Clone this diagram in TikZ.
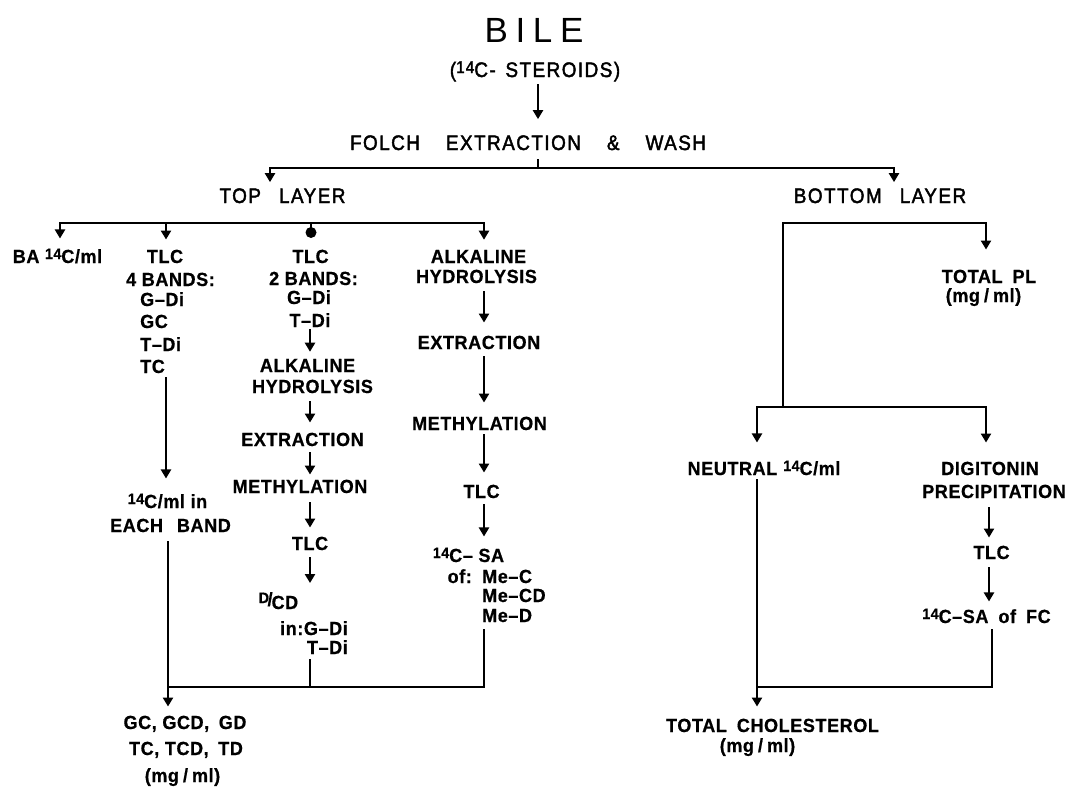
\documentclass[tikz,border=0pt]{standalone}
\usepackage{fontspec}
\setmainfont{Liberation Sans}[LetterSpace=3,FakeStretch=0.95,BoldFeatures={FakeBold=0.6}]
\newfontfamily\bilefont{Liberation Sans}[LetterSpace=22]
\newfontfamily\topfont{Liberation Sans}[LetterSpace=7,FakeStretch=0.9,FakeBold=2]
\usetikzlibrary{arrows.meta}
\newcommand\fourt{\raisebox{4pt}{\fontsize{15}{15}\selectfont 14}}
\newcommand\fourth{\raisebox{4pt}{\fontsize{17}{17}\selectfont 14}}
\begin{document}
\begin{tikzpicture}[x=1pt,y=-1pt,
  t/.style={inner sep=0pt, anchor=base, font={\fontsize{19}{21}\selectfont\bfseries}},
  tl/.style={t, anchor=base west},
  tr/.style={t, anchor=base east},
  hd/.style={inner sep=0pt, anchor=base, font={\fontsize{21}{24}\selectfont\topfont}},
  ln/.style={line width=2.5pt, line cap=rect},
  arr/.style={ln, -{Triangle[length=9pt,width=10pt]}},
]
\useasboundingbox (0,0) rectangle (1068,787);

% ---------- top ----------
\node[hd, font={\fontsize{35}{40}\selectfont\bilefont}] (bile) at (534,42) {BILE};
\node[hd] (ster) at (535,77) {(\fourth C- \hspace{3pt}STEROIDS)};
\node[hd] (folch) at (528,150) {FOLCH\hspace{26pt}EXTRACTION\hspace{26pt}\&\hspace{26pt}WASH};
\node[hd] (toplayer) at (282.5,203) {TOP\hspace{18pt}LAYER};
\node[hd] (botlayer) at (880,203) {BOTTOM\hspace{18pt}LAYER};

\coordinate (X0) at (538,0);
\coordinate (fj) at (538,168);
\coordinate (fl) at (270,168);
\coordinate (fr) at (894,168);
\draw[arr, shorten <=4pt, shorten >=16pt] (ster.south -| X0) -- (folch.north -| X0);
\draw[ln, shorten <=10pt] (folch.south -| fj) -- (fj);
\draw[arr, shorten >=6pt] (fj) -| (toplayer.north -| fl);
\draw[arr, shorten >=6pt] (fj) -| (botlayer.north -| fr);

% ---------- columns under TOP LAYER ----------
\node[t] (ba) at (57.5,263) {BA \fourt C/ml};

\node[t] (c2tlc) at (165,263) {TLC};
\node[t] (c2bands) at (170.5,286) {4 BANDS:};
\node[tl] (c2g) at (140,306) {G–Di};
\node[tl] (c2gc) at (140,328) {GC};
\node[tl] (c2t) at (140,351) {T–Di};
\node[tl] (c2tc) at (140,373) {TC};
\node[t] (c2e1) at (167.5,508) {\fourt C/ml in};
\node[t] (c2e2) at (170.5,532) {EACH\hspace{14pt}BAND};
\node[t] (gc) at (185,729) {GC, GCD,\hspace{4pt} GD};
\node[t] (tc) at (186,755) {TC, TCD,\hspace{4pt} TD};
\node[t] (mg1) at (182.5,782) {(mg\hspace{4pt}/\hspace{4pt}ml)};

\node[t] (c3tlc) at (310.5,263) {TLC};
\node[t] (c3bands) at (313.5,285) {2 BANDS:};
\node[t] (c3g) at (309,304) {G–Di};
\node[t] (c3t) at (310,327) {T–Di};
\node[t] (c3alk) at (307.5,372) {ALKALINE};
\node[t] (c3hyd) at (312.5,393) {HYDROLYSIS};
\node[t] (c3ext) at (302.5,446) {EXTRACTION};
\node[t] (c3met) at (300,493) {METHYLATION};
\node[t] (c3tlc2) at (310,550) {TLC};
\node[t] (c3dcd) at (278.5,606) {\raisebox{3pt}{\fontsize{15}{15}\selectfont D}\kern-1.5pt/\kern-1pt\raisebox{-3pt}{CD}};
\node[tr] (c3in) at (348,635) {in:G–Di};
\node[tr] (c3t2) at (348,654) {T–Di};

\node[t] (c4alk) at (478.5,263) {ALKALINE};
\node[t] (c4hyd) at (476.5,283) {HYDROLYSIS};
\node[t] (c4ext) at (479,349) {EXTRACTION};
\node[t] (c4met) at (479.5,430) {METHYLATION};
\node[t] (c4tlc) at (481.5,498) {TLC};
\node[t] (c4sa) at (468.5,562) {\fourt C– SA};
\node[tr] (c4of) at (472,583) {of:};
\node[tl] (c4c) at (482,583) {Me–C};
\node[tl] (c4cd) at (482,602) {Me–CD};
\node[tl] (c4d) at (482,622) {Me–D};

% top-layer bus
\coordinate (tb1) at (60,223);
\coordinate (tb2) at (166,223);
\coordinate (tb3) at (311,223);
\coordinate (tb4) at (484,223);
\draw[ln] (tb1) -- (tb4);
\draw[arr, shorten >=10pt] (tb1) -- (ba.north -| tb1);
\draw[arr, shorten >=10pt] (tb2) -- (c2tlc.north -| tb2);
\node[circle, fill, inner sep=0pt, minimum size=11pt] (dot) at (311,232.5) {};
\draw[ln] (tb3) -- (dot.north);
\draw[arr, shorten >=10pt] (tb4) -- (c4alk.north -| tb4);

% column 2
\coordinate (X2) at (166,0);
\coordinate (X2b) at (168,0);
\draw[arr, shorten <=5pt, shorten >=15pt] (c2tc.south -| X2) -- (c2e1.north -| X2);
\draw[arr, shorten <=10pt, shorten >=9pt] (c2e2.south -| X2b) -- (gc.north -| X2b);

% column 3
\coordinate (X3) at (310,0);
\draw[arr, shorten <=3pt, shorten >=7pt] (c3t.south -| X3) -- (c3alk.north -| X3);
\draw[arr, shorten <=9pt, shorten >=10pt] (c3hyd.south -| X3) -- (c3ext.north -| X3);
\draw[arr, shorten <=7pt, shorten >=5pt] (c3ext.south -| X3) -- (c3met.north -| X3);
\draw[arr, shorten <=10pt, shorten >=9pt] (c3met.south -| X3) -- (c3tlc2.north -| X3);
\draw[arr, shorten <=8pt, shorten >=9pt] (c3tlc2.south -| X3) -- (c3dcd.north -| X3);

% column 4
\coordinate (X4) at (484,0);
\draw[arr, shorten <=9pt, shorten >=13pt] (c4hyd.south -| X4) -- (c4ext.north -| X4);
\draw[arr, shorten <=8pt, shorten >=14pt] (c4ext.south -| X4) -- (c4met.north -| X4);
\draw[arr, shorten <=5pt, shorten >=12pt] (c4met.south -| X4) -- (c4tlc.north -| X4);
\draw[arr, shorten <=7pt, shorten >=11pt] (c4tlc.south -| X4) -- (c4sa.north -| X4);

% bottom bus (left)
\coordinate (bb1) at (168,687);
\coordinate (bb2) at (310,687);
\coordinate (bb3) at (484,687);
\draw[ln, shorten <=8pt] (c4d.south -| bb3) -- (bb3) -- (bb1);
\draw[ln, shorten <=6pt] (c3t2.south -| bb2) -- (bb2);

% ---------- BOTTOM LAYER side ----------
\node[t] (tpl) at (989,283) {TOTAL\hspace{10pt}PL};
\node[t] (mg2) at (983.5,302) {(mg\hspace{4pt}/\hspace{4pt}ml)};
\node[t] (neut) at (764,475) {NEUTRAL\hspace{6pt}\fourt C/ml};
\node[t] (digi) at (990,475) {DIGITONIN};
\node[t] (prec) at (994,498) {PRECIPITATION};
\node[t] (rtlc) at (991.5,559) {TLC};
\node[t] (fc) at (986.5,623) {\fourt C–SA\hspace{10pt}of\hspace{10pt}FC};
\node[t] (tchol) at (772.5,732) {TOTAL\hspace{10pt}CHOLESTEROL};
\node[t] (mg3) at (757.5,752) {(mg\hspace{4pt}/\hspace{4pt}ml)};

\coordinate (r0) at (783,223);
\coordinate (r1) at (783,407);
\coordinate (XR) at (986,0);
\coordinate (XN) at (757,0);
\coordinate (XD) at (989,0);
\coordinate (rb1) at (757,687);
\coordinate (rb2) at (992,687);
\draw[arr, shorten >=20pt] (r1) -- (r0) -| (tpl.north -| XR);
\draw[arr, shorten >=18pt] (r1) -| (neut.north -| XN);
\draw[arr, shorten >=19pt] (r1) -| (digi.north -| XR);
\draw[arr, shorten <=10pt, shorten >=8pt] (prec.south -| XD) -- (rtlc.north -| XD);
\draw[arr, shorten <=9pt, shorten >=7pt] (rtlc.south -| XD) -- (fc.north -| XD);
\draw[ln, shorten <=7pt] (fc.south -| rb2) -- (rb2) -- (rb1);
\draw[arr, shorten <=5pt, shorten >=12pt] (neut.south -| XN) -- (tchol.north -| XN);
\end{tikzpicture}
\end{document}
